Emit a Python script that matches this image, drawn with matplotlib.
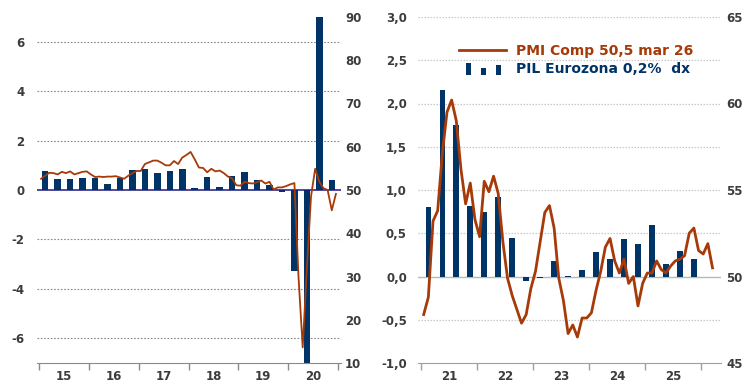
import matplotlib
matplotlib.use("Agg")
import matplotlib.pyplot as plt
import numpy as np
from matplotlib.legend_handler import HandlerBase
from matplotlib.patches import Rectangle
from matplotlib.lines import Line2D

plt.rcParams["font.family"] = ["DejaVu Sans"]
plt.rcParams["axes.unicode_minus"] = False

NAVY = "#003366"
RUST = "#A63A08"
TICK = "#3c3c3c"

# left panel: quarterly GDP q/q (%) 2015Q1-2020Q4, monthly composite PMI Jan15-Dec20
gdp_1520 = [0.77, 0.46, 0.46, 0.50, 0.50, 0.25, 0.50, 0.81,
            0.83, 0.69, 0.77, 0.83, 0.09, 0.54, 0.12, 0.58,
            0.73, 0.40, 0.20, -0.09, -3.27, -11.7, 12.5, 0.40]
pmi_1520 = [52.6, 53.3, 54.0, 53.9, 53.6, 54.2, 53.9, 54.3, 53.6, 53.9, 54.2, 54.3,
            53.6, 53.0, 53.1, 53.0, 53.1, 53.1, 53.2, 52.9, 52.6, 53.3, 53.9, 54.4,
            54.4, 56.0, 56.4, 56.8, 56.8, 56.3, 55.7, 55.7, 56.7, 56.0, 57.5, 58.1,
            58.8, 57.1, 55.2, 55.1, 54.1, 54.9, 54.3, 54.5, 53.9, 53.1, 52.7, 51.1,
            51.0, 51.9, 51.6, 51.5, 51.8, 52.2, 51.5, 51.9, 50.1, 50.6, 50.6, 50.9,
            51.3, 51.6, 29.7, 13.6, 31.9, 48.5, 54.9, 51.9, 50.4, 50.0, 45.3, 49.1]
years_1520 = ["15", "16", "17", "18", "19", "20"]

# right panel: quarterly GDP 2021Q1-2025Q4, monthly PMI Jan21-Mar26
gdp_2125 = [0.80, 2.16, 1.75, 0.81, 0.74, 0.92, 0.44, -0.05,
            -0.02, 0.18, 0.01, 0.07, 0.28, 0.20, 0.43, 0.38,
            0.59, 0.14, 0.29, 0.20]
pmi_2126 = [47.8, 48.8, 53.2, 53.8, 57.1, 59.5, 60.2, 59.0, 56.2, 54.2, 55.4, 53.3,
            52.3, 55.5, 54.9, 55.8, 54.8, 52.0, 49.9, 48.9, 48.1, 47.3, 47.8, 49.3,
            50.3, 52.0, 53.7, 54.1, 52.8, 49.9, 48.6, 46.7, 47.2, 46.5, 47.6, 47.6,
            47.9, 49.2, 50.3, 51.7, 52.2, 50.9, 50.2, 51.0, 49.6, 50.0, 48.3, 49.6,
            50.2, 50.2, 50.9, 50.4, 50.2, 50.6, 50.9, 51.0, 51.2, 52.5, 52.8, 51.5,
            51.3, 51.9, 50.5]
years_2125 = ["21", "22", "23", "24", "25"]

legend_pmi = "PMI Comp 50,5 mar 26"
legend_gdp = "PIL Eurozona 0,2%  dx"


def qx(start, n):
    return start + (np.arange(n) + 0.5) / 4


def mx(start, n):
    return start + (np.arange(n) + 0.5) / 12


def comma(v, _=None):
    return f"{v:.1f}".replace(".", ",")


class BarsHandler(HandlerBase):
    # three little bars of uneven height, like the original legend
    def create_artists(self, legend, orig_handle, xd, yd, width, height, fontsize, trans):
        arts = []
        bw = width * 0.12
        for i, h in enumerate([1.3, 0.75, 1.1]):
            x0 = -xd + width * (0.14 + 0.32 * i)
            r = Rectangle((x0, -yd - 1.5), bw, height * h, facecolor=NAVY,
                          edgecolor="none", transform=trans)
            arts.append(r)
        return arts


def style_x(ax, start, labels, spine_col):
    n = len(labels)
    ax.set_xticks([start + i for i in range(n + 1)])
    ax.set_xticklabels([])
    ax.set_xticks([start + i + 0.5 for i in range(n)], minor=True)
    ax.set_xticklabels(labels, minor=True)
    ax.tick_params(axis="x", which="major", length=5, color=spine_col, width=1)
    ax.tick_params(axis="x", which="minor", length=0, pad=5,
                   labelsize=8.5, labelcolor=TICK)
    for t in ax.get_xticklabels(minor=True):
        t.set_fontweight("bold")
    ax.spines["bottom"].set_color(spine_col)
    for s in ["top", "left", "right"]:
        ax.spines[s].set_visible(False)


fig = plt.figure(figsize=(7.46, 3.84), dpi=100)

# ---------- left panel ----------
ax1 = fig.add_axes([37 / 746, 21 / 384, 304 / 746, 346 / 384])
ax1b = ax1.twinx()
ax1.bar(qx(2015, len(gdp_1520)), gdp_1520, width=0.13, color=NAVY, zorder=2)
ax1.set_ylim(-7, 7)
ax1.set_xlim(2014.96, 2021.06)
ax1.set_yticks([-6, -4, -2, 0, 2, 4, 6])
for v in [-6, -4, -2, 2, 4, 6]:
    ax1.axhline(v, color="#8a8a8a", lw=0.8, ls=(0, (1.5, 1.5)), zorder=1)
ax1.axhline(0, color="#1a1a80", lw=1.1, zorder=3)
ax1.tick_params(axis="y", length=0, pad=9, labelsize=8.5, labelcolor=TICK)
style_x(ax1, 2015, years_1520, "#8a8a8a")

ax1b.plot(mx(2015, len(pmi_1520)), pmi_1520, color=RUST, lw=1.3, zorder=4)
ax1b.set_ylim(10, 90)
ax1b.set_yticks(range(10, 91, 10))
ax1b.tick_params(axis="y", length=0, pad=3, labelsize=8.5, labelcolor=TICK)
for s in ["top", "left", "right", "bottom"]:
    ax1b.spines[s].set_visible(False)
for t in ax1.get_yticklabels() + ax1b.get_yticklabels():
    t.set_fontweight("bold")

# ---------- right panel ----------
ax2 = fig.add_axes([418 / 746, 21 / 384, 303 / 746, 346 / 384])
ax2b = ax2.twinx()
ax2.bar(qx(2021, len(gdp_2125)), gdp_2125, width=0.10, color=NAVY, zorder=2)
ax2.set_ylim(-1, 3)
ax2.set_xlim(2020.94, 2026.36)
yt = np.arange(-1, 3.01, 0.5)
ax2.set_yticks(yt)
ax2.set_yticklabels([comma(v) for v in yt])
for v in yt:
    if v == 0 or v == -1:
        continue
    ax2.axhline(v, color="#c8c8c8", lw=0.9, ls=(0, (1.2, 1.2)), zorder=1)
ax2.axhline(0, color="#b8b8b8", lw=1.0, zorder=1)
ax2.tick_params(axis="y", length=0, pad=8, labelsize=8.5, labelcolor=TICK)
style_x(ax2, 2021, years_2125, "#a0a0a0")

ax2b.plot(mx(2021, len(pmi_2126)), pmi_2126, color=RUST, lw=2.0, zorder=4)
ax2b.set_ylim(45, 65)
ax2b.set_yticks(range(45, 66, 5))
ax2b.tick_params(axis="y", length=0, pad=4, labelsize=8.5, labelcolor=TICK)
for s in ["top", "left", "right", "bottom"]:
    ax2b.spines[s].set_visible(False)
for t in ax2.get_yticklabels() + ax2b.get_yticklabels():
    t.set_fontweight("bold")

h_line = Line2D([], [], color=RUST, lw=2.0)
h_bars = Rectangle((0, 0), 1, 1, color=NAVY)
leg = ax2b.legend([h_line, h_bars], [legend_pmi, legend_gdp],
                  handler_map={Rectangle: BarsHandler()},
                  loc="upper left", bbox_to_anchor=(0.135, 0.922),
                  frameon=False, borderpad=0, borderaxespad=0,
                  handlelength=3.4, handletextpad=0.7, labelspacing=0.3,
                  prop={"size": 10, "weight": "bold"})
for txt, col in zip(leg.get_texts(), [RUST, NAVY]):
    txt.set_color(col)

fig.savefig("out.png", dpi=100)
